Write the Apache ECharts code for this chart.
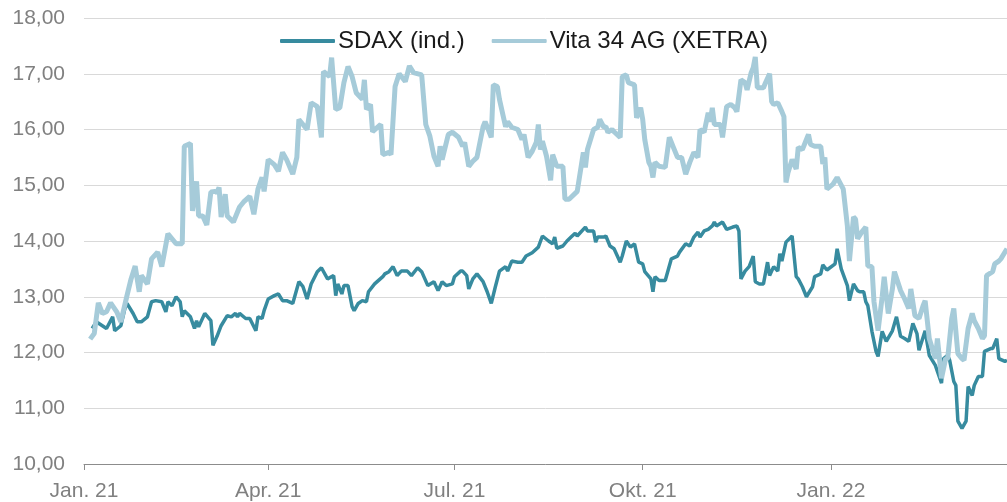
<!DOCTYPE html>
<html>
<head>
<meta charset="utf-8">
<script src="https://cdn.jsdelivr.net/npm/echarts@6/dist/echarts.min.js"></script>
<style>
  html, body { margin: 0; padding: 0; background: #fff; }
  #chart { width: 1007px; height: 502px; }
</style>
</head>
<body>
<div id="chart"></div>
<script>
// Kursverlauf SDAX (indexiert) vs. Vita 34 AG (XETRA), Jan. 21 - Mrz. 22

const seriesNames = ['SDAX (ind.)', 'Vita 34 AG (XETRA)'];
const quarterTicks = ['2021-01-01', '2021-04-01', '2021-07-01', '2021-10-01', '2022-01-01'];
const monthNames = {0: 'Jan.', 3: 'Apr.', 6: 'Jul.', 9: 'Okt.'};

const sdaxDates = [
  '2021-01-05','2021-01-07','2021-01-12','2021-01-15','2021-01-16','2021-01-19','2021-01-21','2021-01-22','2021-01-25','2021-01-27',
  '2021-01-29','2021-02-01','2021-02-03','2021-02-05','2021-02-08','2021-02-10','2021-02-11','2021-02-13','2021-02-15','2021-02-17',
  '2021-02-18','2021-02-19','2021-02-22','2021-02-24','2021-02-25','2021-02-26','2021-03-01','2021-03-04','2021-03-05','2021-03-07',
  '2021-03-09','2021-03-12','2021-03-14','2021-03-16','2021-03-17','2021-03-18','2021-03-21','2021-03-23','2021-03-26','2021-03-27',
  '2021-03-29','2021-03-30','2021-04-01','2021-04-04','2021-04-06','2021-04-08','2021-04-10','2021-04-13','2021-04-16','2021-04-18',
  '2021-04-20','2021-04-22','2021-04-25','2021-04-27','2021-04-30','2021-05-03','2021-05-04','2021-05-05','2021-05-07','2021-05-08',
  '2021-05-10','2021-05-12','2021-05-13','2021-05-15','2021-05-17','2021-05-19','2021-05-20','2021-05-23','2021-05-27','2021-05-28',
  '2021-05-30','2021-06-01','2021-06-03','2021-06-05','2021-06-08','2021-06-10','2021-06-13','2021-06-15','2021-06-18','2021-06-21',
  '2021-06-23','2021-06-25','2021-06-27','2021-06-30','2021-07-01','2021-07-04','2021-07-05','2021-07-07','2021-07-08','2021-07-10',
  '2021-07-12','2021-07-15','2021-07-17','2021-07-19','2021-07-21','2021-07-23','2021-07-26','2021-07-27','2021-07-29','2021-08-01',
  '2021-08-03','2021-08-05','2021-08-08','2021-08-11','2021-08-13','2021-08-16','2021-08-18','2021-08-19','2021-08-20','2021-08-23',
  '2021-08-25','2021-08-27','2021-08-29','2021-08-30','2021-08-31','2021-09-03','2021-09-04','2021-09-07','2021-09-08','2021-09-09',
  '2021-09-12','2021-09-13','2021-09-15','2021-09-17','2021-09-20','2021-09-21','2021-09-23','2021-09-25','2021-09-27','2021-09-29',
  '2021-10-01','2021-10-02','2021-10-05','2021-10-06','2021-10-07','2021-10-09','2021-10-12','2021-10-15','2021-10-18','2021-10-19',
  '2021-10-22','2021-10-24','2021-10-26','2021-10-28','2021-10-29','2021-10-31','2021-11-02','2021-11-04','2021-11-05','2021-11-06',
  '2021-11-09','2021-11-11','2021-11-14','2021-11-16','2021-11-17','2021-11-18','2021-11-20','2021-11-22','2021-11-24','2021-11-25',
  '2021-11-27','2021-11-29','2021-12-01','2021-12-02','2021-12-04','2021-12-06','2021-12-07','2021-12-08','2021-12-10','2021-12-13',
  '2021-12-15','2021-12-16','2021-12-18','2021-12-20','2021-12-23','2021-12-24','2021-12-27','2021-12-28','2021-12-30','2022-01-03',
  '2022-01-04','2022-01-06','2022-01-09','2022-01-10','2022-01-12','2022-01-14','2022-01-15','2022-01-17','2022-01-18','2022-01-19',
  '2022-01-21','2022-01-23','2022-01-24','2022-01-26','2022-01-28','2022-01-31','2022-02-02','2022-02-04','2022-02-06','2022-02-08',
  '2022-02-10','2022-02-12','2022-02-13','2022-02-16','2022-02-18','2022-02-21','2022-02-22','2022-02-24','2022-02-25','2022-02-27',
  '2022-02-28','2022-03-02','2022-03-03','2022-03-04','2022-03-06','2022-03-08','2022-03-09','2022-03-11','2022-03-12','2022-03-14',
  '2022-03-16','2022-03-17','2022-03-20','2022-03-21','2022-03-23','2022-03-24','2022-03-27','2022-03-28'
];
const sdaxValues = [
  12.43,12.55,12.43,12.64,12.39,12.48,12.79,12.88,12.70,12.55,
  12.55,12.64,12.91,12.93,12.91,12.73,12.91,12.84,13.00,12.91,
  12.64,12.75,12.64,12.43,12.57,12.46,12.70,12.57,12.13,12.29,
  12.48,12.66,12.64,12.70,12.64,12.70,12.61,12.61,12.39,12.64,
  12.61,12.75,12.96,13.02,13.05,12.93,12.93,12.88,13.27,13.18,
  12.96,13.23,13.45,13.52,13.32,13.38,13.02,13.23,13.05,13.20,
  13.20,12.82,12.75,12.88,12.93,12.91,13.09,13.23,13.36,13.41,
  13.45,13.54,13.38,13.46,13.46,13.38,13.52,13.45,13.20,13.27,
  13.11,13.27,13.20,13.23,13.36,13.46,13.46,13.38,13.14,13.32,
  13.41,13.27,13.09,12.88,13.18,13.46,13.54,13.46,13.64,13.62,
  13.62,13.73,13.79,13.89,14.09,14.00,13.95,14.07,13.87,13.91,
  14.00,14.07,14.14,14.09,14.13,14.25,14.18,14.18,13.98,14.07,
  14.07,14.09,13.91,13.86,13.62,13.73,14.00,13.89,13.95,13.62,
  13.59,13.45,13.32,13.09,13.36,13.29,13.29,13.68,13.73,13.80,
  13.95,13.91,14.07,14.16,14.07,14.18,14.21,14.27,14.34,14.27,
  14.34,14.21,14.25,14.27,14.18,13.32,13.46,13.54,13.73,13.27,
  13.23,13.23,13.62,13.38,13.54,13.46,13.77,13.64,13.98,14.09,
  13.36,13.32,13.18,13.00,13.18,13.36,13.41,13.57,13.48,13.59,
  13.86,13.50,13.20,12.93,13.23,13.11,13.09,13.09,12.91,12.84,
  12.38,12.02,11.93,12.38,12.20,12.39,12.64,12.29,12.25,12.20,
  12.52,12.34,12.04,12.39,11.95,11.77,11.66,11.45,11.89,11.95,
  11.86,11.48,11.41,10.77,10.64,10.77,11.39,11.23,11.41,11.57,
  11.57,12.02,12.07,12.07,12.25,11.89,11.84,11.86
];

const vitaDates = [
  '2021-01-04','2021-01-06','2021-01-08','2021-01-10','2021-01-12','2021-01-14','2021-01-17','2021-01-19','2021-01-22','2021-01-24',
  '2021-01-26','2021-01-28','2021-01-29','2021-02-01','2021-02-03','2021-02-06','2021-02-08','2021-02-11','2021-02-13','2021-02-15',
  '2021-02-18','2021-02-19','2021-02-22','2021-02-23','2021-02-25','2021-02-26','2021-02-28','2021-03-02','2021-03-04','2021-03-06',
  '2021-03-07','2021-03-08','2021-03-09','2021-03-11','2021-03-12','2021-03-15','2021-03-18','2021-03-20','2021-03-23','2021-03-25',
  '2021-03-27','2021-03-29','2021-03-30','2021-04-01','2021-04-04','2021-04-06','2021-04-08','2021-04-10','2021-04-13','2021-04-15',
  '2021-04-16','2021-04-20','2021-04-22','2021-04-25','2021-04-27','2021-04-28','2021-05-01','2021-05-02','2021-05-04','2021-05-06',
  '2021-05-08','2021-05-10','2021-05-12','2021-05-14','2021-05-17','2021-05-18','2021-05-19','2021-05-21','2021-05-22','2021-05-26',
  '2021-05-27','2021-05-30','2021-05-31','2021-06-02','2021-06-04','2021-06-07','2021-06-09','2021-06-11','2021-06-15','2021-06-17',
  '2021-06-19','2021-06-21','2021-06-23','2021-06-24','2021-06-25','2021-06-28','2021-06-30','2021-07-03','2021-07-05','2021-07-06',
  '2021-07-08','2021-07-10','2021-07-12','2021-07-15','2021-07-16','2021-07-19','2021-07-20','2021-07-22','2021-07-23','2021-07-26',
  '2021-07-27','2021-07-29','2021-08-01','2021-08-03','2021-08-04','2021-08-06','2021-08-08','2021-08-10','2021-08-11','2021-08-12',
  '2021-08-13','2021-08-15','2021-08-17','2021-08-18','2021-08-20','2021-08-23','2021-08-24','2021-08-26','2021-08-30','2021-09-02',
  '2021-09-03','2021-09-04','2021-09-07','2021-09-09','2021-09-10','2021-09-12','2021-09-13','2021-09-14','2021-09-16','2021-09-17',
  '2021-09-20','2021-09-21','2021-09-23','2021-09-24','2021-09-27','2021-09-28','2021-09-30','2021-10-01','2021-10-02','2021-10-04',
  '2021-10-05','2021-10-06','2021-10-07','2021-10-09','2021-10-12','2021-10-14','2021-10-16','2021-10-18','2021-10-20','2021-10-22',
  '2021-10-24','2021-10-26','2021-10-28','2021-10-29','2021-10-31','2021-11-02','2021-11-03','2021-11-04','2021-11-05','2021-11-08',
  '2021-11-09','2021-11-11','2021-11-13','2021-11-15','2021-11-16','2021-11-18','2021-11-20','2021-11-21','2021-11-23','2021-11-24',
  '2021-11-25','2021-11-26','2021-11-29','2021-11-30','2021-12-02','2021-12-03','2021-12-04','2021-12-06','2021-12-08','2021-12-09',
  '2021-12-10','2021-12-11','2021-12-13','2021-12-15','2021-12-16','2021-12-18','2021-12-20','2021-12-21','2021-12-22','2021-12-24',
  '2021-12-27','2021-12-28','2021-12-29','2021-12-30','2022-01-02','2022-01-04','2022-01-07','2022-01-09','2022-01-10','2022-01-12',
  '2022-01-13','2022-01-14','2022-01-16','2022-01-18','2022-01-19','2022-01-21','2022-01-22','2022-01-24','2022-01-26','2022-01-27',
  '2022-01-29','2022-01-31','2022-02-01','2022-02-04','2022-02-06','2022-02-08','2022-02-09','2022-02-11','2022-02-13','2022-02-15',
  '2022-02-16','2022-02-18','2022-02-21','2022-02-22','2022-02-24','2022-02-26','2022-02-27','2022-03-01','2022-03-02','2022-03-04',
  '2022-03-06','2022-03-07','2022-03-09','2022-03-11','2022-03-12','2022-03-14','2022-03-16','2022-03-17','2022-03-18','2022-03-21',
  '2022-03-22','2022-03-24','2022-03-25','2022-03-28'
];
const vitaValues = [
  12.24,12.34,12.89,12.70,12.73,12.89,12.73,12.55,13.02,13.32,
  13.55,13.09,13.38,13.23,13.68,13.80,13.54,14.13,14.04,13.95,
  13.95,15.70,15.75,14.54,15.07,14.45,14.45,14.29,14.88,14.89,
  14.87,14.96,14.43,14.84,14.45,14.34,14.61,14.70,14.80,14.48,
  14.93,15.14,14.89,15.46,15.37,15.25,15.59,15.46,15.20,15.50,
  16.18,16.00,16.48,16.41,15.86,17.04,16.95,17.29,16.36,16.39,
  16.84,17.13,16.95,16.66,16.54,16.89,16.36,16.45,15.96,16.09,
  15.55,15.59,15.55,16.77,17.00,16.86,17.14,17.02,16.98,16.09,
  15.88,15.52,15.34,15.70,15.46,15.91,15.95,15.86,15.70,15.77,
  15.34,15.43,15.50,16.05,16.14,15.86,16.80,16.77,16.54,16.05,
  16.14,16.04,16.00,15.82,15.91,15.50,15.61,15.77,16.09,15.64,
  15.79,15.52,15.09,15.55,15.34,15.34,14.75,14.75,14.89,15.59,
  15.32,15.64,16.00,16.04,16.18,16.04,16.05,15.95,16.00,15.96,
  15.86,16.95,16.98,16.84,16.80,16.21,16.39,16.18,15.82,15.41,
  15.34,15.14,15.41,15.34,15.32,15.86,15.68,15.50,15.50,15.20,
  15.41,15.59,15.50,16.00,15.95,16.30,16.14,16.39,16.09,16.09,
  15.86,16.41,16.45,16.39,16.32,16.89,16.84,16.71,17.02,17.11,
  17.30,16.75,16.75,16.84,17.00,16.50,16.45,16.48,16.32,16.23,
  15.05,15.23,15.46,15.29,15.68,15.64,15.82,15.91,15.73,15.70,
  15.70,15.38,15.50,14.93,15.02,15.14,14.93,14.27,13.64,14.43,
  14.39,14.04,14.16,14.25,13.55,13.54,12.91,12.39,13.00,13.36,
  12.70,13.14,13.45,13.11,12.96,12.79,13.14,12.66,12.61,12.84,
  12.93,12.25,11.89,12.25,11.54,11.89,11.89,12.61,12.79,11.98,
  11.89,11.86,12.43,12.70,12.57,12.43,12.25,12.30,13.38,13.45,
  13.59,13.64,13.68,13.86
];

const toTime = s => {
  const [y, m, d] = s.split('-').map(Number);
  return new Date(y, m - 1, d).getTime();
};
const zip = (dates, values) => dates.map((d, i) => [toTime(d), values[i]]);

const chart = echarts.init(document.getElementById('chart'), null, {renderer: 'canvas'});

const labelFont = 'Liberation Sans, Arial, sans-serif';
const tickValues = quarterTicks.map(toTime);
const sdaxColor = '#378b9f';
const vitaColor = '#a6cbd9';

// Zeitachse als value-Achse mit Zeitstempeln, damit die Quartals-Ticks fest gesetzt werden können
chart.setOption({
  animation: false,
  backgroundColor: '#ffffff',
  grid: {left: 84, right: 0, top: 18, bottom: 34, containLabel: false},
  legend: {
    left: 280,
    top: 29,
    padding: 0,
    icon: 'roundRect',
    itemWidth: 55,
    itemHeight: 4,
    itemGap: 27,
    textStyle: {fontFamily: labelFont, fontSize: 24, color: '#1a1a1a', padding: [0, 0, 0, -2]},
    data: seriesNames
  },
  xAxis: {
    type: 'value',
    min: toTime('2021-01-01'),
    max: toTime('2022-03-28'),
    axisLine: {show: true, lineStyle: {color: '#8c8c8c', width: 1}},
    axisTick: {show: true, length: 6, lineStyle: {color: '#8c8c8c'}, customValues: tickValues},
    axisLabel: {
      customValues: tickValues,
      margin: 17,
      fontFamily: labelFont,
      fontSize: 21,
      color: '#808080',
      formatter: v => {
        const dt = new Date(v);
        return monthNames[dt.getMonth()] + ' ' + String(dt.getFullYear()).slice(2);
      }
    },
    splitLine: {show: false}
  },
  yAxis: {
    type: 'value',
    min: 10,
    max: 18,
    interval: 1,
    axisLine: {show: false},
    axisTick: {show: false},
    axisLabel: {
      margin: 19,
      fontFamily: labelFont,
      fontSize: 21,
      color: '#808080',
      formatter: v => v.toFixed(2).replace('.', ',')
    },
    splitLine: {lineStyle: {color: '#d9d9d9', width: 1}}
  },
  series: [
    {
      name: seriesNames[0],
      type: 'line',
      symbol: 'none',
      lineStyle: {color: sdaxColor, width: 3.5},
      itemStyle: {color: sdaxColor},
      data: zip(sdaxDates, sdaxValues)
    },
    {
      name: seriesNames[1],
      type: 'line',
      symbol: 'none',
      lineStyle: {color: vitaColor, width: 5},
      itemStyle: {color: vitaColor},
      data: zip(vitaDates, vitaValues)
    }
  ]
});
</script>
</body>
</html>
